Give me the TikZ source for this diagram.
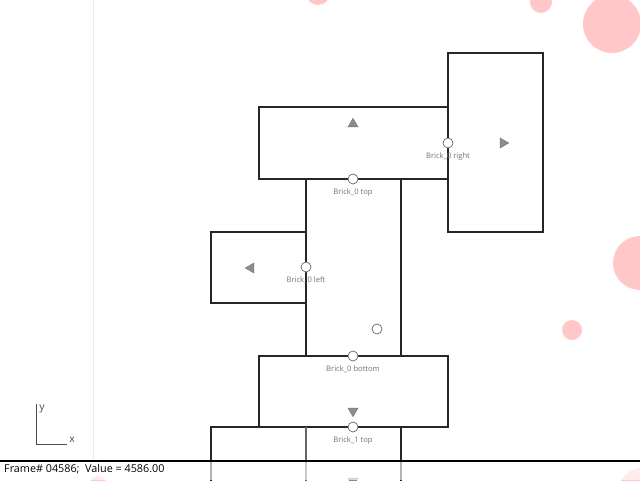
\documentclass[tikz,border=0pt]{standalone}
\usepackage{fontspec}
\setsansfont{Open Sans}
\usetikzlibrary{shapes.geometric}
\newcommand{\plugtag}[1]{\fontsize{7.6}{8}\selectfont #1}

\begin{document}
\begin{tikzpicture}[x=1pt,y=-1pt,
  brick/.style={draw=black!85,line width=1.5pt},
  plug/.style={circle,draw=black!60,fill=white,line width=0.7pt,minimum size=10pt,inner sep=0pt},
  tag/.style={font=\sffamily,text=black!55,inner sep=1pt},
  tri/.style={regular polygon,regular polygon sides=3,fill=black!45,draw=black!55,minimum size=11.5pt,inner sep=0pt},
  blob/.style={fill=red!22}]
\useasboundingbox (0,0) rectangle (640,480);
\fill[white] (0,0) rectangle (640,480);
% background blobs
\fill[blob] (318,-7) circle (12);
\fill[blob] (541,2) circle (11);
\fill[blob] (612,24) circle (29);
\fill[blob] (640,263) circle (27);
\fill[blob] (572,330) circle (10);
\fill[blob] (98,484) circle (8);
\fill[blob] (642,492) circle (24);
\draw[black!8] (93,0) -- (93,461);
% bricks
\draw[brick] (448,53) rectangle (543,232);
\draw[brick] (259,107) rectangle (448,179);
\draw[brick] (306,179) rectangle (401,356);
\draw[brick] (211,232) rectangle (306,303);
\draw[brick] (259,356) rectangle (448,427);
\draw[brick] (211,427) rectangle (401,500);
\draw[black!60,line width=1.2pt] (306,427) -- (306,500);
% direction marks
\node[tri] (up) at (353,124) {};
\node[tri,rotate=-90] (rt) at (503,143) {};
\node[tri,rotate=90] (lt) at (251,268) {};
\node[tri,rotate=180] (dn) at (353,411) {};
\node[tri,rotate=180] (dn1) at (353,481) {};
% plugs
\node[plug] (right) at (448,143) {};
\node[tag,below=3pt] at (right.south) {\plugtag{Brick\_0 right}};
\node[plug] (top) at (353,179) {};
\node[tag,below=3pt] at (top.south) {\plugtag{Brick\_0 top}};
\node[plug] (left) at (306,267) {};
\node[tag,below=3pt] at (left.south) {\plugtag{Brick\_0 left}};
\node[plug] (bottom) at (353,356) {};
\node[tag,below=3pt] at (bottom.south) {\plugtag{Brick\_0 bottom}};
\node[plug] (top1) at (353,427) {};
\node[tag,below=3pt] at (top1.south) {\plugtag{Brick\_1 top}};
\node[plug] (pivot) at (377,329) {};
% axes
\coordinate (org) at (36,444);
\node[font=\sffamily\fontsize{10.5}{12}\selectfont,text=black!70] (ylab) at (42,409) {y};
\node[font=\sffamily\fontsize{10.5}{12}\selectfont,text=black!70] (xlab) at (72,440) {x};
\draw[black!70,line width=0.8pt] (36,404) -- (org) -- (67,444);
% status bar
\fill[white,opacity=0.65] (0,461) rectangle (640,480);
\draw[line width=1.2pt] (0,461) -- (640,461);
\node[font=\sffamily\fontsize{10.8}{12}\selectfont,anchor=west,inner sep=0pt] (status) at (4,469.5) {Frame\# 04586;\ \ Value = 4586.00};
\end{tikzpicture}
\end{document}
